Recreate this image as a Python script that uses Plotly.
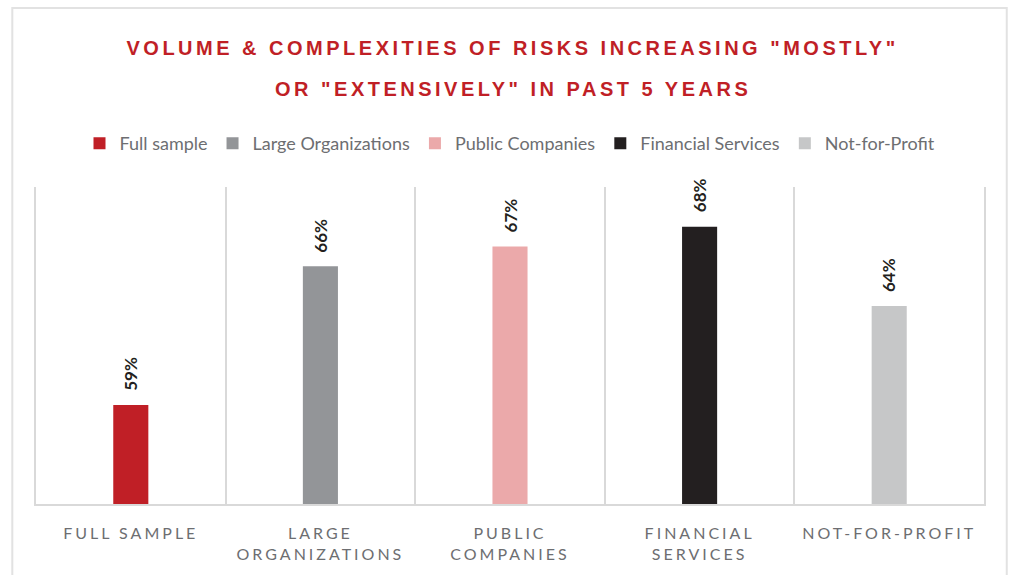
import plotly.graph_objects as go

categories = ["Full sample", "Large Organizations", "Public Companies", "Financial Services", "Not-for-Profit"]
tick_labels = ["FULL SAMPLE", "LARGE<br>ORGANIZATIONS", "PUBLIC<br>COMPANIES", "FINANCIAL<br>SERVICES", "NOT-FOR-PROFIT"]
values = [59, 66, 67, 68, 64]
colors = ["#C01F26", "#939598", "#EBA9AA", "#231F20", "#C6C7C8"]
title_lines = ['VOLUME &amp; COMPLEXITIES OF RISKS INCREASING "MOSTLY"', 'OR "EXTENSIVELY" IN PAST 5 YEARS']

fig = go.Figure()
for cat, tl, v, c in zip(categories, tick_labels, values, colors):
    fig.add_trace(go.Bar(
        x=[tl], y=[v], name=cat, marker=dict(color=c, line=dict(width=0)),
        width=0.185, showlegend=True,
    ))

annotations = []
for i, line in enumerate(title_lines):
    annotations.append(dict(
        text="<b>" + line + "</b>", xref="paper", yref="paper", x=0.503, y=[1.44, 1.31][i],
        xanchor="center", yanchor="middle", showarrow=False,
        font=dict(family="Liberation Sans Narrow, Arial Narrow, Liberation Sans", size=20, color="#C01F26"),
    ))
for tl, v in zip(tick_labels, values):
    annotations.append(dict(
        text="<b>%d%%</b>" % v, x=tl, y=v, xref="x", yref="y", showarrow=False,
        textangle=-90, xanchor="center", yanchor="bottom", yshift=12,
        font=dict(family="Lato", size=17, color="#231F20"),
    ))

fig.update_layout(
    width=1012, height=575,
    margin=dict(l=36, r=28, t=187, b=67),
    paper_bgcolor="white", plot_bgcolor="white",
    barmode="overlay",
    showlegend=True,
    legend=dict(orientation="h", x=0.5, xanchor="center", y=1.137, yanchor="middle",
                font=dict(family="Lato", size=18, color="#6D6E71"), traceorder="normal"),
    xaxis=dict(
        type="category", tickson="boundaries", showgrid=True, gridcolor="#D9D9D9", gridwidth=1.5,
        showline=True, linecolor="#D9D9D9", linewidth=2, ticks="", ticklabelstandoff=14,
        tickfont=dict(family="Lato", size=16, color="#6D6E71"), fixedrange=True,
    ),
    yaxis=dict(range=[54, 70], showgrid=False, showticklabels=False, zeroline=False, ticks="",
               showline=True, mirror=True, linecolor="#D9D9D9", linewidth=1.5, fixedrange=True),
    annotations=annotations,
    shapes=[dict(type="rect", xref="paper", yref="paper", x0=-0.025, x1=1.024, y0=-0.5, y1=1.565,
                 line=dict(color="#E2E2E2", width=2), layer="below")],
)

post_script = """
var s = document.createElement('style');
s.textContent = '.xtick text{letter-spacing:3px;} .annotation[data-index="0"] text, .annotation[data-index="1"] text{letter-spacing:3.5px;}';
document.head.appendChild(s);
"""

fig.write_html("out.html", post_script=post_script, config={"displayModeBar": False})
